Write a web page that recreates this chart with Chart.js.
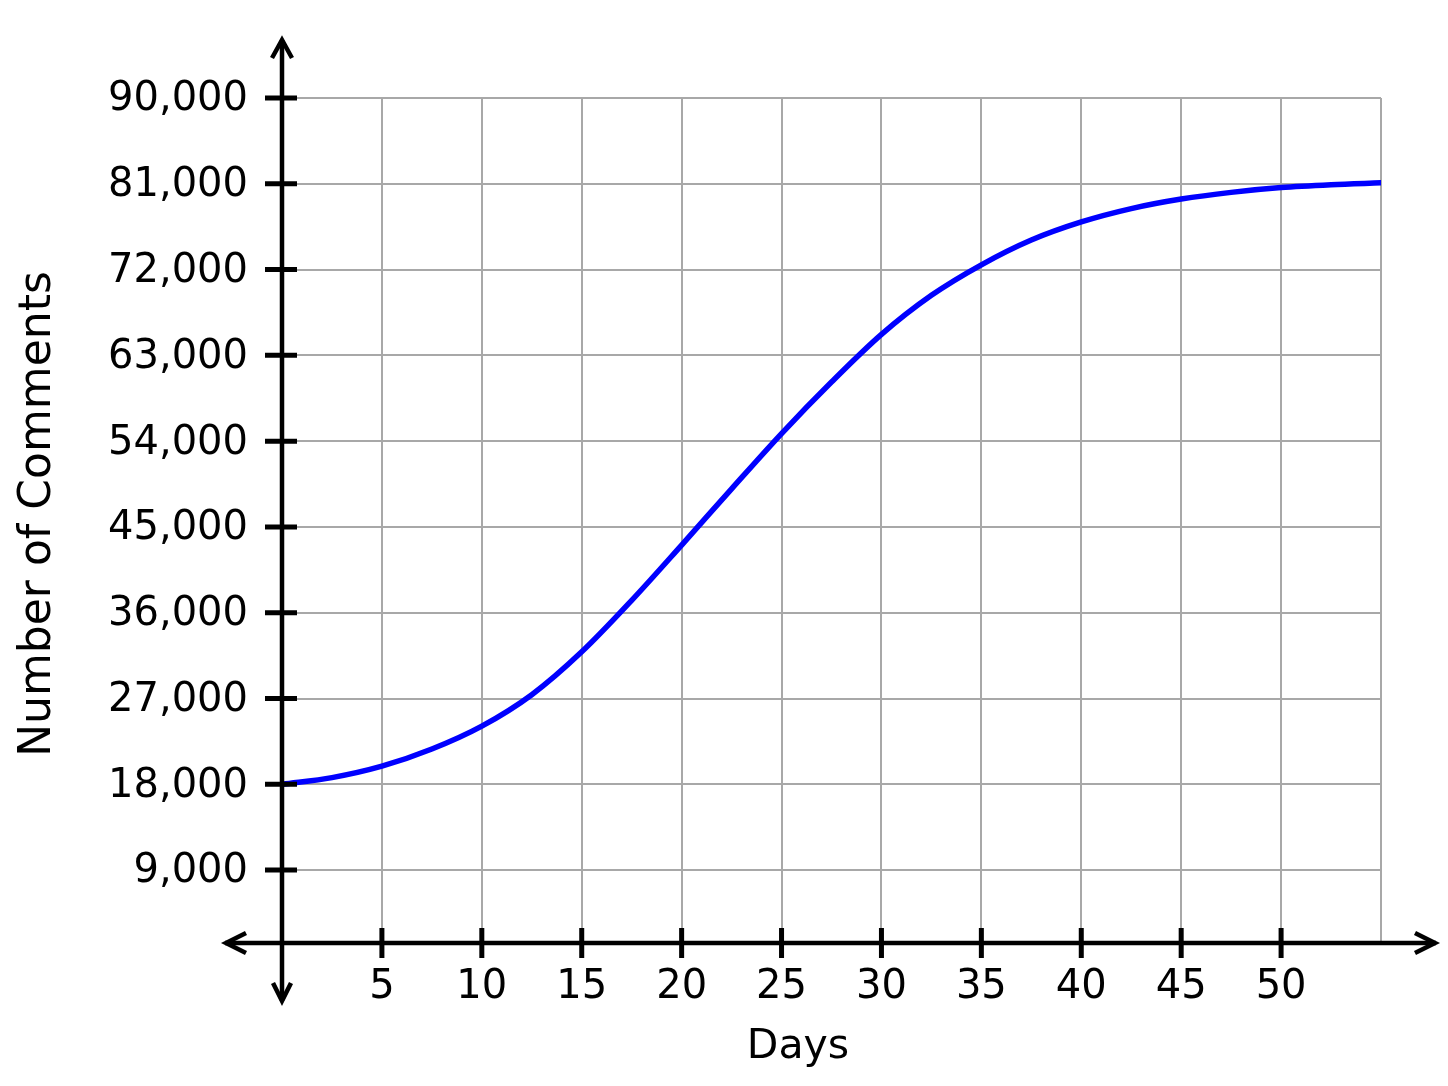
<!DOCTYPE html>
<html>
<head>
<meta charset="utf-8">
<title>Number of Comments over Days</title>
<script src="https://cdn.jsdelivr.net/npm/chart.js@4"></script>
<style>
  html, body { margin: 0; padding: 0; background: #fff; }
  #wrap { width: 1448px; height: 1086px; }
</style>
</head>
<body>
<div id="wrap"><canvas id="chartComments" width="1448" height="1086"></canvas></div>
<script>
/* ──── Données ───────────────────────────────────────────── */

const days     = [0, 2.5, 5, 7.5, 10, 12.5, 15, 17.5, 20, 22.5, 25, 27.5,
                  30, 32.5, 35, 37.5, 40, 42.5, 45, 47.5, 50, 52.5, 55];
const comments = [18000, 18700, 19900, 21700, 24100, 27400, 31900, 37300,
                  43100, 49000, 54800, 60200, 65200, 69300, 72500, 75100,
                  77000, 78400, 79400, 80100, 80600, 80900, 81100];

const xTicks   = [0, 5, 10, 15, 20, 25, 30, 35, 40, 45, 50, 55];
const xLabels  = ['', '5', '10', '15', '20', '25', '30', '35', '40', '45', '50', ''];
const yTicks   = [9000, 18000, 27000, 36000, 45000, 54000, 63000, 72000, 81000, 90000];

const xTitle   = 'Days';
const yTitle   = 'Number of Comments';

/* ──── Axes fléchés + graduations + titres ──────────────── */

const FONT = "'DejaVu Sans', sans-serif";

const axesPlugin = {
  id: 'arrowAxes',
  afterDatasetsDraw(chart) {
    const { ctx, chartArea, scales: { x, y } } = chart;
    const x0 = x.getPixelForValue(0);
    const yb = chartArea.bottom;

    ctx.save();
    ctx.strokeStyle = '#000';
    ctx.lineCap = 'butt';

    // axes
    ctx.lineWidth = 4.5;
    ctx.beginPath();
    ctx.moveTo(x0, 40);   ctx.lineTo(x0, 1001);
    ctx.moveTo(225, yb);  ctx.lineTo(1436, yb);
    ctx.stroke();

    // flèches ouvertes
    ctx.lineWidth = 4.5;
    ctx.lineJoin = 'miter';
    ctx.beginPath();
    ctx.moveTo(x0 - 10, 58);  ctx.lineTo(x0, 40); ctx.lineTo(x0 + 10, 58);
    ctx.moveTo(x0 - 9, 983);  ctx.lineTo(x0, 1001); ctx.lineTo(x0 + 9, 983);
    ctx.moveTo(246, yb - 10); ctx.lineTo(226, yb); ctx.lineTo(246, yb + 10);
    ctx.moveTo(1415, yb - 10); ctx.lineTo(1435, yb); ctx.lineTo(1415, yb + 10);
    ctx.stroke();

    // graduations
    ctx.lineWidth = 5;
    ctx.beginPath();
    yTicks.forEach(v => {
      const py = y.getPixelForValue(v);
      ctx.moveTo(x0 - 17, py); ctx.lineTo(x0 + 15, py);
    });
    xTicks.filter(v => v > 0 && v < 55).forEach(v => {
      const px = x.getPixelForValue(v);
      ctx.moveTo(px, yb - 15); ctx.lineTo(px, yb + 15);
    });
    ctx.stroke();

    // titres
    ctx.fillStyle = '#000';
    ctx.textAlign = 'center';
    ctx.textBaseline = 'middle';
    ctx.font = '41px ' + FONT;
    ctx.fillText(xTitle, 798, 1047);

    ctx.translate(39, 514);
    ctx.rotate(-Math.PI / 2);
    ctx.font = '44px ' + FONT;
    ctx.fillText(yTitle, 0, 0);
    ctx.restore();
  },
};

/* ──── Graphique ─────────────────────────────────────────── */

const ctx = document.getElementById('chartComments').getContext('2d');
const chart = new Chart(ctx, {
  type: 'line',
  data: {
    datasets: [{
      data: days.map((d, i) => ({ x: d, y: comments[i] })),
      borderColor: '#0000ff',
      borderWidth: 5.5,
      borderCapStyle: 'round',
      cubicInterpolationMode: 'monotone',
      pointRadius: 0,
      fill: false,
    }],
  },
  options: {
    responsive: false,
    animation: false,
    devicePixelRatio: 1,
    layout: { padding: { left: 0, right: 67, top: 98, bottom: 0 } },
    plugins: { legend: { display: false }, tooltip: { enabled: false } },
    scales: {
      x: {
        type: 'linear',
        min: 0, max: 55,
        afterBuildTicks: s => { s.ticks = xTicks.map(v => ({ value: v })); },
        afterFit: s => { s.height = 143; },
        ticks: {
          color: '#000',
          font: { family: FONT, size: 40 },
          padding: 21,
          maxRotation: 0,
          autoSkip: false,
          callback: v => xLabels[xTicks.indexOf(v)] ?? '',
        },
        grid:   { color: '#a8a8a8', lineWidth: 2, drawTicks: false },
        border: { display: false },
      },
      y: {
        min: 1350, max: 90000,
        afterBuildTicks: s => { s.ticks = yTicks.map(v => ({ value: v })); },
        afterFit: s => { s.width = 282; },
        ticks: {
          color: '#000',
          font: { family: FONT, size: 40 },
          padding: 34,
          labelOffset: 2,
          autoSkip: false,
          callback: v => v.toLocaleString('en-US'),
        },
        grid:   { color: '#a8a8a8', lineWidth: 2, drawTicks: false },
        border: { display: false },
      },
    },
  },
  plugins: [axesPlugin],
});
</script>
</body>
</html>
